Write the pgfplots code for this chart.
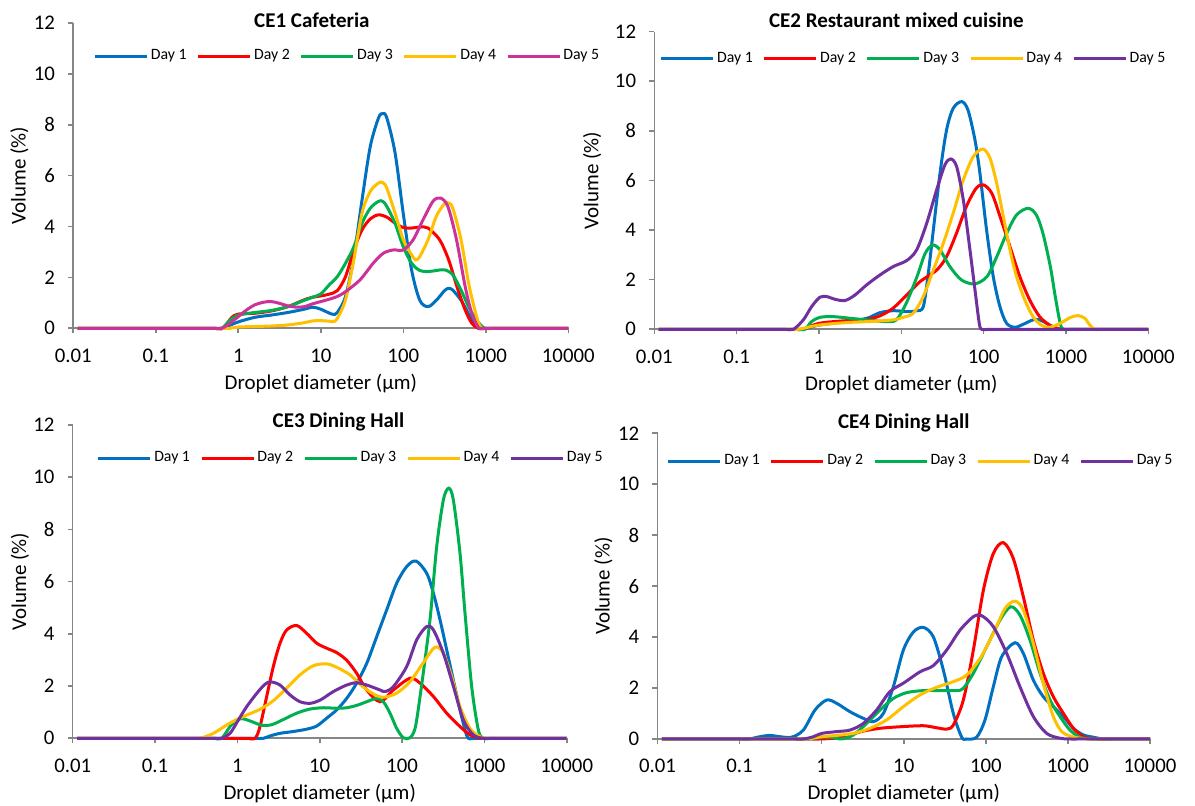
\documentclass[border=0pt]{standalone}
\usepackage{fontspec}
\setmainfont{Carlito}
\usepackage{pgfplots}
\pgfplotsset{compat=1.18}

\definecolor{dayA}{RGB}{0,112,192}
\definecolor{dayB}{RGB}{255,0,0}
\definecolor{dayC}{RGB}{0,176,80}
\definecolor{dayD}{RGB}{255,192,0}
\definecolor{dayE}{RGB}{112,48,160}
\definecolor{dayEpink}{RGB}{204,51,153}
\definecolor{axisgray}{RGB}{134,134,134}

\pgfkeys{/pgf/number format/assume math mode=true}
\pgfplotsset{
  legend image code/.code={\draw[#1, line width=1.5pt] (0pt,0pt) -- (26pt,0pt);},
}
\pgfplotsset{
  psd/.style={
    scale only axis,
    clip=false,
    xmin=0.01, xmax=10000,
    ymin=0, ymax=12,
    axis lines=left,
    axis line style={draw=axisgray, line width=0.8pt, -},
    every tick/.style={draw=axisgray, line width=0.8pt},
    tick align=outside,
    major tick length=2.6pt,
    xtick={0.01,0.1,1,10,100,1000,10000},
    xticklabels={0.01,0.1,1,10,100,1000,10000},
    xminorticks=false,
    ytick={0,2,4,6,8,10,12},
    tick label style={font=\fontsize{10.4}{12}\selectfont},
    xticklabel style={anchor=center, yshift=-11pt},
    yticklabel style={anchor=east, xshift=-3pt},
    xlabel={Droplet diameter (µm)},
    ylabel={Volume (\%)},
    label style={font=\fontsize{10.5}{12}\selectfont},
    xlabel style={at={(axis description cs:0.5,0)}, anchor=center, yshift=-27.5pt},
    title style={anchor=center, yshift=-6pt, font=\bfseries\fontsize{10.5}{12}\selectfont},
    legend columns=5,
    legend style={draw=none, fill=none, anchor=west,
      font=\fontsize{7.9}{9}\selectfont,
      nodes={inner sep=1.2pt},
      /tikz/every even column/.append style={column sep=3.8pt}},
  },
  every axis plot/.append style={line width=1.5pt, smooth},
}

\begin{document}
\begin{tikzpicture}
\useasboundingbox (0,0) rectangle (597.5pt,403pt);

% ---------------- CE1 ----------------
\begin{semilogxaxis}[psd,
  at={(36.65pt,238.85pt)}, anchor=south west,
  width=247.5pt, height=152.65pt,
  title={CE1 Cafeteria},
  title style={at={(axis description cs:0.482,1.01)}},
  ylabel style={at={(axis description cs:-0.109,0.5)}, anchor=center},
  legend style={at={(axis description cs:0.028,0.891)}},
]
\addplot[dayA] coordinates {(0.0113,0) (0.398,0) (0.501,0) (0.631,0) (1,0.25) (1.585,0.43) (2.512,0.52) (3.981,0.62) (6.31,0.75) (7.943,0.83) (10,0.75) (12.59,0.6) (14.13,0.55) (15.85,0.62) (19.95,1.25) (25.12,2.8) (31.62,5.05) (39.81,7.15) (50.12,8.27) (56.23,8.44) (63.1,8.27) (79.43,6.9) (100,4.5) (125.9,2.3) (158.5,1.1) (199.5,0.85) (251.2,1.1) (316.2,1.48) (354.8,1.57) (398.1,1.5) (501.2,1.1) (631,0.52) (794.3,0.02) (1000,0) (1259,0) (1585,0) (10000,0)};
\addplot[dayB] coordinates {(0.0113,0) (0.417,0) (0.525,0) (0.661,0) (0.794,0.35) (0.891,0.5) (1,0.56) (1.585,0.59) (2.512,0.68) (3.981,0.85) (6.31,1.12) (7.943,1.22) (10,1.27) (12.59,1.34) (15.85,1.48) (19.95,2.03) (25.12,3.08) (31.62,3.87) (39.81,4.3) (50.12,4.46) (63.1,4.37) (79.43,4.13) (100,3.96) (125.9,3.94) (158.5,3.98) (199.5,3.94) (275.4,3.48) (354.8,2.69) (446.7,1.64) (562.3,0.72) (676.1,0.2) (812.8,0) (1023,0) (1288,0) (10000,0)};
\addplot[dayC] coordinates {(0.0113,0) (0.398,0) (0.501,0) (0.631,0) (0.794,0.32) (1,0.52) (1.585,0.62) (2.512,0.7) (3.981,0.85) (6.31,1.1) (7.943,1.22) (10,1.35) (12.59,1.7) (15.85,2.03) (19.95,2.56) (25.12,3.2) (31.62,4.13) (39.81,4.72) (50.12,4.99) (56.23,4.99) (63.1,4.79) (79.43,4.13) (100,3.2) (125.9,2.56) (158.5,2.27) (199.5,2.23) (251.2,2.27) (316.2,2.3) (398.1,2.1) (501.2,1.5) (631,0.79) (794.3,0.26) (977.2,0) (1230,0) (1549,0) (10000,0)};
\addplot[dayD] coordinates {(0.0113,0) (0.501,0) (0.631,0) (0.794,0) (1,0.05) (1.585,0.07) (2.512,0.09) (3.981,0.13) (6.31,0.22) (7.943,0.29) (10,0.3) (12.59,0.28) (14.13,0.26) (15.85,0.39) (19.95,1.12) (25.12,2.69) (31.62,4.53) (39.81,5.38) (50.12,5.71) (56.23,5.73) (63.1,5.51) (79.43,4.53) (100,3.48) (125.9,2.89) (141.3,2.69) (158.5,2.82) (199.5,3.48) (251.2,4.4) (316.2,4.9) (354.8,4.92) (398.1,4.72) (501.2,3.48) (631,1.64) (794.3,0.33) (891.3,0) (1122,0) (1413,0) (10000,0)};
\addplot[dayEpink] coordinates {(0.0113,0) (0.398,0) (0.501,0) (0.631,0) (0.794,0.2) (1,0.46) (1.259,0.72) (1.585,0.92) (1.995,1.02) (2.512,1.05) (3.162,0.98) (3.981,0.88) (5.012,0.83) (6.31,0.85) (7.943,0.96) (10,1.05) (12.59,1.14) (15.85,1.25) (19.95,1.44) (29.85,1.9) (43.25,2.56) (57.28,2.95) (75.68,3.08) (100,3.08) (131.8,3.48) (173.8,4.27) (229.1,4.99) (281.8,5.12) (346.7,4.79) (441.6,3.48) (562.3,1.64) (676.1,0.59) (812.8,0.03) (891.3,0) (1122,0) (1413,0) (10000,0)};
\legend{Day 1,Day 2,Day 3,Day 4,Day 5}
\end{semilogxaxis}

% ---------------- CE2 ----------------
\begin{semilogxaxis}[psd,
  at={(327.15pt,238.35pt)}, anchor=south west,
  width=247pt, height=148.8pt,
  title={CE2 Restaurant mixed cuisine},
  title style={at={(axis description cs:0.49,1.037)}},
  ylabel style={at={(axis description cs:-0.126,0.5)}, anchor=center},
  legend style={at={(axis description cs:-0.002,0.909)}},
]
\addplot[dayA] coordinates {(0.0113,0) (0.407,0) (0.513,0) (0.646,0) (1,0.17) (2.168,0.31) (3.793,0.44) (5.508,0.67) (8.0,0.75) (12.16,0.71) (15.35,0.75) (18.49,0.91) (21.28,2.26) (24.49,4.0) (29.51,6.29) (35.48,8.04) (42.66,8.91) (54.08,9.18) (64.57,8.84) (78.52,7.63) (90.16,6.29) (108.6,4.0) (130.9,2.12) (157.8,0.91) (190.1,0.24) (239.9,0.08) (302,0.2) (398.1,0.38) (478.6,0.38) (582.1,0.24) (701.5,0.08) (807.2,0) (1016,0) (1279,0) (10000,0)};
\addplot[dayB] coordinates {(0.0113,0) (0.407,0) (0.513,0) (0.646,0) (1,0.24) (2.168,0.35) (3.793,0.4) (5.495,0.54) (7.943,0.85) (11.61,1.38) (16.87,1.92) (26.92,2.39) (35.48,2.93) (46.77,3.87) (61.66,4.95) (81.28,5.69) (100,5.82) (125.9,5.48) (158.5,4.54) (208.9,3.33) (275.4,2.12) (363.1,1.18) (478.6,0.51) (631,0.17) (794.3,0.03) (933.3,0) (1175,0) (1479,0) (10000,0)};
\addplot[dayC] coordinates {(0.0113,0) (0.427,0) (0.537,0) (0.676,0) (0.813,0.31) (1.023,0.48) (1.479,0.51) (2.63,0.43) (4.571,0.35) (6.607,0.31) (8.71,0.38) (11.48,1.05) (15.49,2.12) (19.5,3.06) (23.99,3.4) (29.51,3.2) (38.9,2.53) (53.7,1.99) (77.62,1.83) (109.6,2.12) (144.5,2.93) (190.5,3.87) (251.2,4.61) (346.7,4.88) (436.5,4.61) (524.8,3.87) (645.7,2.53) (741.3,1.32) (851.1,0.24) (933.3,0) (1175,0) (1479,0) (10000,0)};
\addplot[dayD] coordinates {(0.0113,0) (0.355,0) (0.447,0) (0.562,0) (1,0.17) (2.168,0.27) (4.571,0.32) (7.943,0.38) (10.47,0.48) (14.0,0.65) (18.49,1.32) (24.49,2.39) (32.36,3.47) (42.66,4.68) (56.62,6.02) (74.82,6.96) (97.72,7.27) (119.4,6.9) (143.9,5.89) (173.8,4.54) (208.9,3.2) (251.2,2.12) (316.2,1.18) (398.1,0.51) (501.2,0.17) (631,0.08) (851.1,0.24) (1122,0.47) (1413,0.55) (1698,0.44) (1950,0.17) (2239,0) (2818,0) (3548,0) (10000,0)};
\addplot[dayE] coordinates {(0.0113,0) (0.309,0) (0.389,0) (0.49,0) (0.646,0.38) (0.813,0.91) (1.023,1.29) (1.239,1.32) (1.563,1.21) (2.07,1.16) (2.735,1.38) (3.793,1.79) (5.508,2.19) (8.0,2.53) (11.61,2.77) (15.35,3.2) (20.32,4.27) (26.85,5.62) (33.88,6.63) (39.81,6.87) (46.99,6.56) (56.62,5.22) (68.23,3.2) (78.52,1.59) (88.51,0.24) (94.62,0) (119.1,0) (150,0) (10000,0)};
\legend{Day 1,Day 2,Day 3,Day 4,Day 5}
\end{semilogxaxis}

% ---------------- CE3 ----------------
\begin{semilogxaxis}[psd,
  at={(36.35pt,33.85pt)}, anchor=south west,
  width=247pt, height=156.65pt,
  title={CE3 Dining Hall},
  title style={at={(axis description cs:0.538,1.01)}},
  ylabel style={at={(axis description cs:-0.107,0.5)}, anchor=center},
  legend style={at={(axis description cs:0.036,0.894)}},
]
\addplot[dayA] coordinates {(0.0113,0) (1.306,0) (1.644,0) (2.07,0) (2.495,0.09) (3.296,0.19) (4.786,0.26) (6.95,0.35) (9.204,0.47) (12.16,0.77) (16.11,1.09) (21.28,1.53) (28.12,2.11) (37.24,2.87) (49.2,3.89) (65.16,4.92) (86.1,5.94) (114,6.58) (147.9,6.79) (199.5,6.32) (240.4,5.56) (289.7,4.53) (349.1,3.38) (419.8,2.23) (505.8,1.09) (582.1,0.32) (639.7,0) (805,0) (1014,0) (10000,0)};
\addplot[dayB] coordinates {(0.0113,0) (1.035,0) (1.303,0) (1.641,0) (1.884,0.45) (2.27,1.6) (2.735,2.75) (3.296,3.64) (3.972,4.15) (5.26,4.32) (6.95,4.02) (9.204,3.64) (12.16,3.45) (16.11,3.28) (21.28,2.99) (28.12,2.49) (37.24,1.85) (54.08,1.4) (78.52,1.85) (125,2.3) (165.6,2.11) (240.4,1.6) (349.1,0.96) (505.8,0.45) (669.9,0.13) (885.1,0) (1114,0) (1403,0) (10000,0)};
\addplot[dayC] coordinates {(0.0113,0) (0.407,0) (0.513,0) (0.646,0) (0.815,0.45) (1,0.7) (1.161,0.75) (1.493,0.64) (1.977,0.5) (2.612,0.52) (3.622,0.72) (5.248,0.96) (7.638,1.12) (11.09,1.17) (16.11,1.15) (21.28,1.17) (28.12,1.26) (37.24,1.4) (49.2,1.53) (59.29,1.4) (71.45,0.96) (86.1,0.38) (103.7,0.02) (125,0.02) (144.5,0.4) (165.6,1.6) (199.5,3.51) (222.8,4.79) (263.6,7.34) (317.7,9.13) (369,9.58) (419.8,9.13) (505.8,7.09) (582.1,4.79) (701.5,1.98) (845.3,0.32) (972.7,0) (1225,0) (1542,0) (10000,0)};
\addplot[dayD] coordinates {(0.0113,0) (0.222,0) (0.28,0) (0.352,0) (0.512,0.19) (0.741,0.51) (1,0.73) (1.297,0.89) (1.884,1.11) (2.735,1.44) (3.972,1.92) (5.768,2.43) (8.375,2.78) (12.16,2.85) (16.07,2.72) (23.33,2.43) (33.88,1.96) (49.2,1.63) (62.23,1.58) (86.1,1.73) (125,2.17) (181.6,2.9) (251.8,3.49) (317.7,3.26) (400.9,2.36) (505.8,1.21) (669.9,0.38) (885.1,0.06) (1067,0) (1343,0) (1690,0) (10000,0)};
\addplot[dayE] coordinates {(0.0113,0) (0.407,0) (0.513,0) (0.646,0) (0.815,0.19) (1.028,0.7) (1.297,1.21) (1.718,1.72) (2.168,2.07) (2.541,2.16) (3.296,2.04) (4.365,1.66) (5.768,1.4) (7.638,1.34) (10.09,1.46) (14.66,1.79) (21.28,2.04) (28.12,2.13) (37.24,2.04) (54.08,1.85) (62.23,1.79) (78.52,1.98) (114,2.75) (150.7,3.77) (199.5,4.28) (240.4,4.15) (317.7,3.26) (419.8,2.0) (555.9,0.7) (734.5,0.13) (972.7,0) (1225,0) (1542,0) (10000,0)};
\legend{Day 1,Day 2,Day 3,Day 4,Day 5}
\end{semilogxaxis}

% ---------------- CE4 ----------------
\begin{semilogxaxis}[psd,
  at={(328.75pt,33.5pt)}, anchor=south west,
  width=246.25pt, height=152.85pt,
  title={CE4 Dining Hall},
  title style={at={(axis description cs:0.5,1.035)}},
  ylabel style={at={(axis description cs:-0.11,0.5)}, anchor=center},
  legend style={at={(axis description cs:0.006,0.909)}},
]
\addplot[dayA] coordinates {(0.0113,0) (0.082,0) (0.103,0) (0.13,0) (0.177,0.09) (0.234,0.14) (0.31,0.09) (0.431,0.07) (0.598,0.35) (0.83,1.14) (1.151,1.53) (1.524,1.4) (2.213,1.07) (3.221,0.81) (4.256,0.68) (5.636,1.0) (7.464,2.05) (9.886,3.49) (13.09,4.2) (17.34,4.38) (22.91,4.01) (30.34,2.71) (40.18,1.0) (50.82,0.07) (58.48,0) (77.27,0.07) (97.72,0.75) (123.3,2.05) (156,3.23) (226.5,3.78) (286.4,3.36) (379.3,2.31) (501.2,1.66) (663.7,1.27) (879,0.88) (1164,0.42) (1542,0.16) (2042,0.07) (2692,0) (3389,0) (4266,0) (10000,0)};
\addplot[dayB] coordinates {(0.0113,0) (0.603,0) (0.759,0) (0.955,0) (1.524,0.04) (2.213,0.16) (3.221,0.31) (5.14,0.42) (8.995,0.48) (17.34,0.52) (25.18,0.44) (33.34,0.39) (40.18,0.55) (53.21,1.53) (70.47,3.49) (93.33,5.84) (123.3,7.28) (163.3,7.71) (216.3,7.08) (286.4,5.58) (379.3,3.88) (501.2,2.58) (663.7,1.66) (879,1.01) (1164,0.42) (1542,0.09) (2042,0) (2570,0) (3236,0) (10000,0)};
\addplot[dayC] coordinates {(0.0113,0) (0.457,0) (0.575,0) (0.724,0) (1,0.07) (1.324,0.07) (1.754,0) (2.432,0.16) (3.532,0.61) (5.14,1.14) (7.464,1.59) (10.86,1.82) (17.34,1.9) (27.67,1.9) (44.16,1.9) (53.21,1.99) (70.47,2.58) (102.3,3.62) (148.9,4.67) (200.4,5.19) (260.6,4.86) (345.1,3.88) (457.1,2.58) (605.3,1.53) (801.7,0.88) (1059,0.35) (1403,0.07) (1862,0) (2344,0) (2951,0) (10000,0)};
\addplot[dayD] coordinates {(0.0113,0) (0.417,0) (0.525,0) (0.661,0) (1,0.09) (1.524,0.14) (2.432,0.22) (3.882,0.42) (6.194,0.75) (9.886,1.27) (15.78,1.73) (25.18,2.03) (40.18,2.25) (58.48,2.51) (84.92,3.16) (123.3,4.14) (171,5.12) (226.5,5.41) (286.4,5.06) (379.3,3.75) (501.2,2.18) (663.7,0.88) (839.5,0.29) (1059,0.12) (1403,0.03) (1862,0) (2344,0) (2951,0) (10000,0)};
\addplot[dayE] coordinates {(0.0113,0) (0.38,0) (0.479,0) (0.603,0) (0.794,0.09) (1,0.22) (1.524,0.29) (2.213,0.35) (3.221,0.61) (4.677,1.14) (6.792,1.86) (10,2.2) (15.85,2.64) (22.91,2.88) (33.34,3.49) (48.42,4.27) (70.47,4.8) (88.92,4.84) (123.3,4.41) (179.5,3.36) (260.6,2.05) (379.3,0.88) (550.8,0.22) (801.7,0.03) (1059,0) (1334,0) (1679,0) (10000,0)};
\legend{Day 1,Day 2,Day 3,Day 4,Day 5}
\end{semilogxaxis}
\end{tikzpicture}
\end{document}
